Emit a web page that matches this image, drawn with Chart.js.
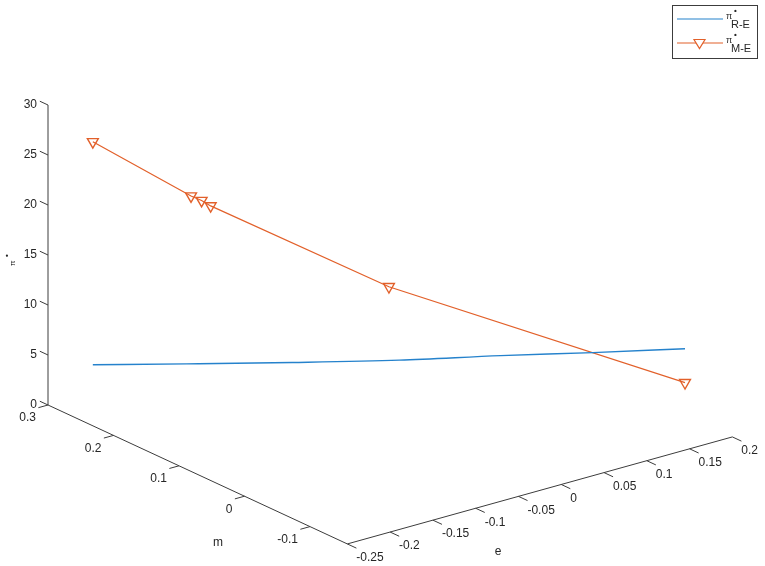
<!DOCTYPE html>
<html>
<head>
<meta charset="utf-8">
<script src="https://cdn.jsdelivr.net/npm/chart.js@4.4.1/dist/chart.umd.min.js"></script>
<style>
html,body{margin:0;padding:0;background:#fff;}
#wrap{width:765px;height:566px;position:relative;}
canvas{display:block;}
</style>
</head>
<body>
<div id="wrap"><canvas id="c" width="765" height="566"></canvas></div>
<script>
// ---- data ----
const seriesLabels = ['R-E', 'M-E'];
const eRE  = [-0.242, -0.180, -0.110, -0.039, 0.028, 0.089, 0.150];
const mRE  = [ 0.242,  0.180,  0.110,  0.039, -0.028, -0.089, -0.150];
const piRE = [5.6, 6.1, 6.7, 7.4, 8.3, 9.0, 9.8];

const eME  = [-0.242, -0.177, -0.170, -0.164, -0.046, 0.150];
const mME  = [ 0.242,  0.177,  0.170,  0.164,  0.046, -0.150];
const piME = [27.9, 22.9, 22.5, 22.0, 14.7, 6.4];

const eTicks = [-0.25, -0.2, -0.15, -0.1, -0.05, 0, 0.05, 0.1, 0.15, 0.2];
const eTickLabels = ['-0.25','-0.2','-0.15','-0.1','-0.05','0','0.05','0.1','0.15','0.2'];
const mTicks = [0.3, 0.2, 0.1, 0, -0.1];
const mTickLabels = ['0.3','0.2','0.1','0','-0.1'];
const zTicks = [0, 5, 10, 15, 20, 25, 30];
const zTickLabels = ['0','5','10','15','20','25','30'];
const eLim = [-0.25, 0.2];
const mLim = [-0.157, 0.3];
const zLim = [0, 30];

// ---- view (projection of the 3-D box onto the page plane) ----
const VIEW = {
  ox: 48, oy: 405,            // point e=eMin, m=mMax, z=0
  ex: 855.6, ey: -237.8,      // per unit e
  mx: -655, my: -304,         // per unit m
  zx: 0, zy: -10              // per unit z
};
function proj(e, m, z) {
  return {
    x: VIEW.ox + VIEW.ex * (e - eLim[0]) + VIEW.mx * (m - mLim[1]) + VIEW.zx * z,
    y: VIEW.oy + VIEW.ey * (e - eLim[0]) + VIEW.my * (m - mLim[1]) + VIEW.zy * z
  };
}
function toPts(es, ms, zs) { return es.map((e, i) => proj(e, ms[i], zs[i])); }

const BLUE = '#2582cc';
const ORANGE = '#e2602a';
const AX = '#3c3c3c';
const TXT = '#262626';
const FONT = '"Liberation Sans", Arial, sans-serif';

function norm(x, y) { const l = Math.hypot(x, y); return [x / l, y / l]; }

const axes3d = {
  id: 'axes3d',
  beforeDatasetsDraw(chart) {
    const ctx = chart.ctx, sx = chart.scales.x, sy = chart.scales.y;
    const P = (e, m, z) => { const p = proj(e, m, z); return [sx.getPixelForValue(p.x), sy.getPixelForValue(p.y)]; };
    ctx.save();
    ctx.strokeStyle = AX; ctx.lineWidth = 1;
    ctx.fillStyle = TXT; ctx.font = '12px ' + FONT;
    const line = (a, b) => { ctx.beginPath(); ctx.moveTo(a[0], a[1]); ctx.lineTo(b[0], b[1]); ctx.stroke(); };
    // axis lines
    line(P(eLim[0], mLim[1], zLim[0]), P(eLim[0], mLim[1], zLim[1]));      // z
    line(P(eLim[0], mLim[1], 0), P(eLim[0], mLim[0], 0));                 // m
    line(P(eLim[0], mLim[0], 0), P(eLim[1], mLim[0], 0));                 // e
    const dE = norm(VIEW.ex, VIEW.ey), dM = norm(VIEW.mx, VIEW.my);
    // z ticks
    ctx.textAlign = 'right'; ctx.textBaseline = 'middle';
    zTicks.forEach((z, i) => {
      const a = P(eLim[0], mLim[1], z);
      line(a, [a[0] + dM[0] * 9, a[1] + dM[1] * 9]);
      ctx.fillText(zTickLabels[i], a[0] - 11, a[1]);
    });
    // m ticks
    mTicks.forEach((m, i) => {
      const a = P(eLim[0], m, 0);
      line(a, [a[0] - dE[0] * 10, a[1] - dE[1] * 10]);
      ctx.fillText(mTickLabels[i], a[0] - 12, a[1] + 13);
    });
    // e ticks
    ctx.textAlign = 'left';
    eTicks.forEach((e, i) => {
      const a = P(e, mLim[0], 0);
      line(a, [a[0] - dM[0] * 10, a[1] - dM[1] * 10]);
      ctx.fillText(eTickLabels[i], a[0] + 9, a[1] + 14);
    });
    // axis labels
    ctx.textAlign = 'center';
    ctx.font = '12px ' + FONT;
    ctx.fillText('m', 218, 543);
    ctx.fillText('e', 498, 552);
    // z label (rotated)
    ctx.save();
    ctx.translate(15, 262);
    ctx.rotate(-Math.PI / 2);
    ctx.textAlign = 'left'; ctx.textBaseline = 'alphabetic';
    ctx.font = '8px ' + FONT;
    ctx.fillText('π', -4, 0);
    ctx.font = 'bold 8px ' + FONT;
    ctx.fillText('•', 5, -6);
    ctx.restore();
    ctx.restore();
  }
};

const legend3d = {
  id: 'legend3d',
  afterDraw(chart) {
    const ctx = chart.ctx;
    ctx.save();
    ctx.fillStyle = '#fff';
    ctx.fillRect(672.5, 5.5, 85, 53);
    ctx.strokeStyle = AX; ctx.lineWidth = 1;
    ctx.strokeRect(672.5, 5.5, 85, 53);
    const rows = [{ y: 19, c: BLUE, mk: false }, { y: 43, c: ORANGE, mk: true }];
    rows.forEach((r, i) => {
      ctx.strokeStyle = r.c; ctx.lineWidth = 1.2;
      ctx.beginPath(); ctx.moveTo(677, r.y); ctx.lineTo(723, r.y); ctx.stroke();
      if (r.mk) {
        ctx.beginPath();
        ctx.moveTo(694, r.y - 3.5); ctx.lineTo(705, r.y - 3.5); ctx.lineTo(699.5, r.y + 5.5); ctx.closePath();
        ctx.fillStyle = '#fff'; ctx.fill(); ctx.stroke();
      }
      ctx.fillStyle = TXT;
      ctx.textAlign = 'left'; ctx.textBaseline = 'alphabetic';
      ctx.font = '9px ' + FONT;
      ctx.fillText('π', 726, r.y);
      ctx.font = 'bold 8px ' + FONT;
      ctx.fillText('•', 734, r.y - 6);
      ctx.font = '11px ' + FONT;
      ctx.fillText(chart.data.datasets[i].label, 731, r.y + 9);
    });
    ctx.restore();
  }
};

new Chart(document.getElementById('c'), {
  type: 'scatter',
  data: {
    datasets: [
      {
        label: seriesLabels[0],
        data: toPts(eRE, mRE, piRE),
        showLine: true,
        borderColor: BLUE,
        borderWidth: 1.4,
        pointRadius: 0,
        pointHoverRadius: 0,
        cubicInterpolationMode: 'monotone',
        fill: false
      },
      {
        label: seriesLabels[1],
        data: toPts(eME, mME, piME),
        showLine: true,
        borderColor: ORANGE,
        borderWidth: 1.2,
        tension: 0,
        pointStyle: 'triangle',
        rotation: 180,
        pointRadius: 6.3,
        pointBorderWidth: 1.4,
        pointBorderColor: ORANGE,
        pointBackgroundColor: 'rgba(255,255,255,0)',
        fill: false
      }
    ]
  },
  options: {
    responsive: false,
    animation: false,
    devicePixelRatio: 1,
    layout: { padding: 0, autoPadding: false },
    plugins: { legend: { display: false }, tooltip: { enabled: false }, title: { display: false } },
    scales: {
      x: { type: 'linear', min: 0, max: 765, display: false },
      y: { type: 'linear', min: 0, max: 566, reverse: true, display: false }
    }
  },
  plugins: [axes3d, legend3d]
});
</script>
</body>
</html>
